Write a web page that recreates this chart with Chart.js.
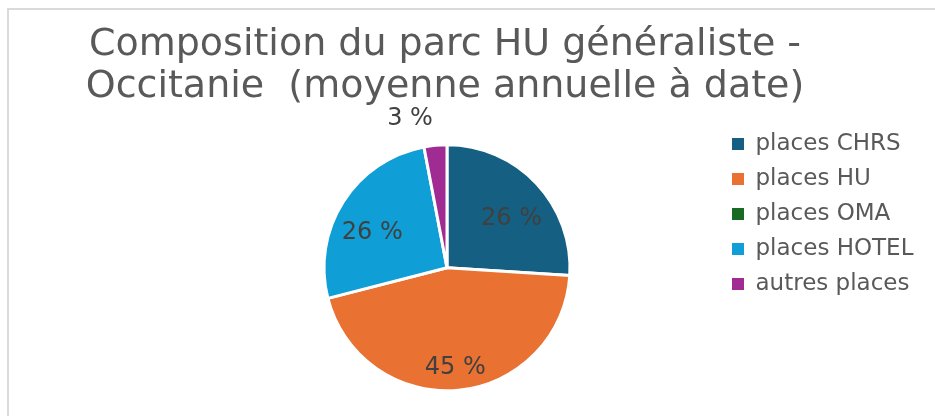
<!DOCTYPE html>
<html lang="fr">
<head>
<meta charset="utf-8">
<title>Composition du parc HU généraliste - Occitanie</title>
<script src="https://cdn.jsdelivr.net/npm/chart.js@4.4.1/dist/chart.umd.min.js"></script>
<style>
    html, body { margin: 0; padding: 0; background: #ffffff; }
    canvas { display: block; }
</style>
</head>
<body>
<canvas id="chart1" width="935" height="416"></canvas>
<script>
// parc HU généraliste, moyenne annuelle (en %)
const categories = ['places CHRS', 'places HU', 'places OMA', 'places HOTEL', 'autres places'];
const shares = [26, 45, 0, 26, 3];
const colours = ['#156082', '#E97132', '#196B24', '#0F9ED5', '#A02B93'];
const titleLines = ['Composition du parc HU généraliste -', 'Occitanie  (moyenne annuelle à date)'];

const FONT = 'DejaVu Sans';
const LEGEND_SIZE = 23;
const LEGEND_PAD = 12;
const LEGEND_BOX = 12;
const LEGEND_LEFT = 720;

// the legend is as wide as its longest label; work out the right padding
// so that it starts at LEGEND_LEFT
function legendRightPadding() {
    const c = document.createElement('canvas').getContext('2d');
    c.font = LEGEND_SIZE + 'px "' + FONT + '"';
    const longest = Math.max(...categories.map(t => c.measureText(t).width));
    const width = LEGEND_PAD + LEGEND_BOX + LEGEND_SIZE / 2 + longest + 10;
    return Math.max(0, 935 - LEGEND_LEFT - width);
}

// thin grey frame on the top and left edges
const frame = {
    id: 'frame',
    beforeDraw(chart) {
        const c = chart.ctx;
        c.save();
        c.fillStyle = '#dadada';
        c.fillRect(7, 8, 2, chart.height - 8);
        c.fillRect(7, 8, chart.width - 7, 2);
        c.restore();
    }
};

// keep the title centred over the pie rather than the whole canvas
const titleShift = {
    id: 'titleShift',
    afterLayout(chart) {
        const t = chart.titleBlock;
        t.left = 0;
        t.right = 890;
    }
};

// percentage labels: inside big slices, outside small ones
const sliceLabels = {
    id: 'sliceLabels',
    afterDatasetsDraw(chart) {
        const c = chart.ctx;
        const meta = chart.getDatasetMeta(0);
        const values = chart.data.datasets[0].data;
        const total = values.reduce((a, b) => a + b, 0);
        c.save();
        c.font = '24px "' + FONT + '"';
        c.fillStyle = '#404040';
        c.textBaseline = 'middle';
        meta.data.forEach((arc, i) => {
            if (!values[i]) return;
            const p = arc.getProps(['x', 'y', 'startAngle', 'endAngle', 'outerRadius']);
            const mid = (p.startAngle + p.endAngle) / 2;
            const pct = Math.round(values[i] / total * 100);
            const text = pct + ' %';
            if (pct >= 5) {
                const r = p.outerRadius * 0.72;
                c.textAlign = 'center';
                c.fillText(text, p.x + Math.cos(mid) * r, p.y + Math.sin(mid) * r + 12);
            } else {
                const r = p.outerRadius + 27;
                const x = p.x + Math.cos(mid) * r;
                c.textAlign = x < p.x ? 'right' : 'left';
                c.fillText(text, x, p.y + Math.sin(mid) * r);
            }
        });
        c.restore();
    }
};

const ctx = document.getElementById('chart1');

new Chart(ctx, {
    type: 'pie',
    data: {
        labels: categories,
        datasets: [{
            data: shares,
            backgroundColor: colours,
            borderColor: '#ffffff',
            borderWidth: 3
        }]
    },
    options: {
        responsive: false,
        animation: false,
        devicePixelRatio: 1,
        radius: 123,
        layout: {
            padding: { left: 174, right: legendRightPadding(), top: 0, bottom: 1 }
        },
        plugins: {
            title: {
                display: true,
                text: titleLines,
                color: '#595959',
                font: { family: FONT, size: 38, weight: 'normal', lineHeight: 1.1 },
                padding: { top: 24, bottom: 13 }
            },
            legend: {
                position: 'right',
                align: 'start',
                fullSize: false,
                labels: {
                    color: '#595959',
                    font: { family: FONT, size: LEGEND_SIZE },
                    boxWidth: LEGEND_BOX,
                    boxHeight: LEGEND_BOX,
                    padding: LEGEND_PAD,
                    generateLabels: chart => Chart.overrides.pie.plugins.legend.labels
                        .generateLabels(chart).map(l => ({ ...l, lineWidth: 0 }))
                }
            },
            tooltip: { enabled: false }
        }
    },
    plugins: [frame, titleShift, sliceLabels]
});
</script>
</body>
</html>
